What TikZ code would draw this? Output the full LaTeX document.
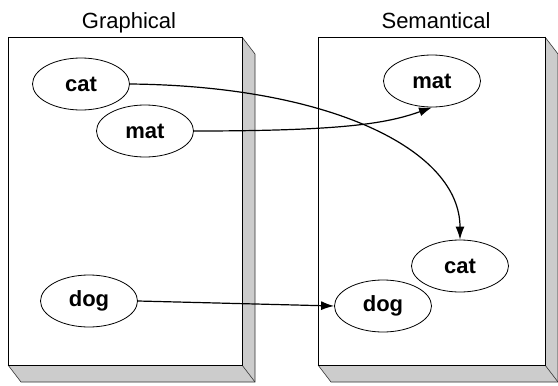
\documentclass[tikz,border=0pt]{standalone}
\usepackage{fontspec}
\setmainfont{Liberation Sans}
\usetikzlibrary{arrows.meta}
\usetikzlibrary{shapes}

\begin{document}
\begin{tikzpicture}[x=1pt, y=-1pt,
  wort/.style={ellipse, draw, line width=0.8pt, fill=white, minimum width=97pt, minimum height=52pt, inner sep=0pt, font=\fontsize{22}{26}\selectfont\bfseries},
  titel/.style={anchor=base, font=\fontsize{22}{26}\selectfont},
  pfeil/.style={-{Latex[length=13pt,width=9pt]}, line width=1.2pt}]
\useasboundingbox (0,0) rectangle (558,386);
% linker Kasten mit Schatten
\fill[color=gray!40] (242,37) -- (255,54) -- (255,382) -- (21,382) -- (8,365) -- (242,365) -- cycle;
\draw[line width=0.6pt, color=black!80] (242,37) -- (255,54) -- (255,382) -- (21,382) -- (8,365);
\draw[line width=0.6pt, color=black!80] (242,365) -- (255,382);
\draw[line width=0.8pt] (8,37) rectangle (242,365);
% rechter Kasten, gleicher Aufbau
\fill[color=gray!40] (545,37) -- (558,54) -- (558,382) -- (331,382) -- (318,365) -- (545,365) -- cycle;
\draw[line width=0.6pt, color=black!80] (545,37) -- (558,54) -- (558,382) -- (331,382) -- (318,365);
\draw[line width=0.6pt, color=black!80] (545,365) -- (558,382);
\draw[line width=0.8pt] (318,37) rectangle (545,365);
\node[titel] (tGraph) at (129,28) {Graphical};
\node[titel] (tSem) at (436,28) {Semantical};
\node[wort] (catG) at (81,84) {cat};
\node[wort] (matG) at (145,131) {mat};
\node[wort] (dogG) at (89,301) {dog};
\node[wort] (matS) at (432,81) {mat};
\node[wort] (catS) at (460,266) {cat};
\node[wort] (dogS) at (383,306) {dog};
\draw[pfeil] (catG.east) .. controls +(200,2) and +(0,-90) .. (catS.north);
\draw[pfeil] (matG.east) .. controls +(150,0) and +(-45,16) .. (matS.south);
\draw[pfeil] (dogG.east) -- (dogS.west);
\end{tikzpicture}
\end{document}
